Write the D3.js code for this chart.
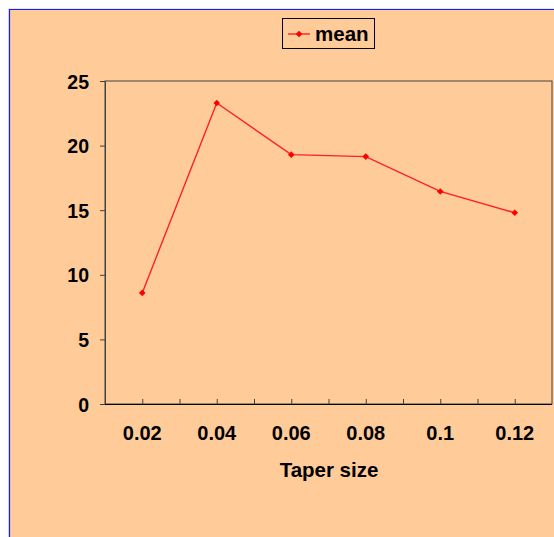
<!DOCTYPE html>
<html><head><meta charset="utf-8">
<script src="https://cdn.jsdelivr.net/npm/d3@7"></script>
<style>html,body{margin:0;padding:0;background:#fff;}svg{display:block;}</style>
</head><body>
<script>
const categories = ["0.02","0.04","0.06","0.08","0.1","0.12"];
const meanValues = [8.6, 23.3, 19.3, 19.15, 16.45, 14.8];
const yTicks = [0,5,10,15,20,25];
const seriesName = "mean";
const xTitle = "Taper size";

const W=554,H=537;
const FONT="Arial, Liberation Sans, sans-serif";
const svg=d3.select("body").append("svg").attr("width",W).attr("height",H);
svg.append("rect").attr("x",0).attr("y",0).attr("width",W).attr("height",H).attr("fill","#ffffff");
svg.append("rect").attr("x",8).attr("y",8).attr("width",W).attr("height",H).attr("fill","#e6e6ff");
svg.append("rect").attr("x",9).attr("y",9).attr("width",W).attr("height",H).attr("fill","#FFCC99");
svg.append("line").attr("x1",9.5).attr("x2",9.5).attr("y1",9).attr("y2",H).attr("stroke","#1a1aff").attr("stroke-width",1.2);
svg.append("line").attr("x1",9).attr("x2",W).attr("y1",9.5).attr("y2",9.5).attr("stroke","#1a1aff").attr("stroke-width",1.2);

const L=105,R=552,T=81,B=404;
const x=d3.scaleBand().domain(categories).range([L,R]);
const y=d3.scaleLinear().domain([0,25]).range([B,T]);

// plot border
svg.append("rect").attr("x",L).attr("y",T).attr("width",R-L).attr("height",B-T)
  .attr("fill","none").attr("stroke","#404040").attr("stroke-width",1);

// y axis
const yAxis=d3.axisLeft(y).tickValues(yTicks).tickSize(5).tickPadding(11);
const gy=svg.append("g").attr("transform",`translate(${L},0)`).call(yAxis);
gy.select(".domain").attr("stroke","#404040");
gy.selectAll(".tick line").attr("stroke","#404040");
gy.selectAll("text").attr("font-family",FONT).attr("font-weight","bold").attr("font-size",19.5).attr("fill","#000").attr("dy","0.36em");

// x axis
const xAxis=d3.axisBottom(x).tickSize(0);
const gx=svg.append("g").attr("transform",`translate(0,${B})`).call(xAxis);
gx.select(".domain").remove();
gx.selectAll("text").attr("font-family",FONT).attr("font-weight","bold").attr("font-size",20).attr("fill","#000").attr("y",36).attr("dy",null);
// inward ticks at half-band spacing
const half=[];
categories.forEach((c,i)=>{ if(i>0) half.push(x(c)); half.push(x(c)+x.bandwidth()/2); });
svg.append("g").selectAll("line").data(half).join("line")
  .attr("x1",d=>d+0.5).attr("x2",d=>d+0.5).attr("y1",B).attr("y2",B-5)
  .attr("stroke","#404040");
svg.append("line").attr("x1",L).attr("x2",R).attr("y1",B+0.5).attr("y2",B+0.5).attr("stroke","#000").attr("stroke-width",1.2);

svg.append("text").attr("x",329).attr("y",477).attr("text-anchor","middle")
  .attr("font-family",FONT).attr("font-weight","bold").attr("font-size",20.5).text(xTitle);

// line
const cx=(c)=>x(c)+x.bandwidth()/2;
const line=d3.line().x((d,i)=>cx(categories[i])).y(d=>y(d));
svg.append("path").datum(meanValues).attr("d",line).attr("fill","none").attr("stroke","#ff2020").attr("stroke-width",1.4);
const diamond=d3.symbol().type(d3.symbolSquare).size(22);
svg.append("g").selectAll("path").data(meanValues).join("path")
  .attr("d",diamond).attr("transform",(d,i)=>`translate(${cx(categories[i])},${y(d)}) rotate(45)`).attr("fill","#ff0000");

// legend
const lg=svg.append("g");
lg.append("rect").attr("x",282.5).attr("y",18.5).attr("width",92).attr("height",30).attr("fill","#FFCC99").attr("stroke","#000").attr("stroke-width",1);
lg.append("line").attr("x1",288).attr("x2",310).attr("y1",34).attr("y2",34).attr("stroke","#ff2020").attr("stroke-width",1.4);
lg.append("path").attr("d",diamond).attr("transform","translate(299,34) rotate(45)").attr("fill","#ff0000");
lg.append("text").attr("x",315).attr("y",41).attr("font-family",FONT).attr("font-weight","bold").attr("font-size",20.5).text(seriesName);
</script>
</body></html>
